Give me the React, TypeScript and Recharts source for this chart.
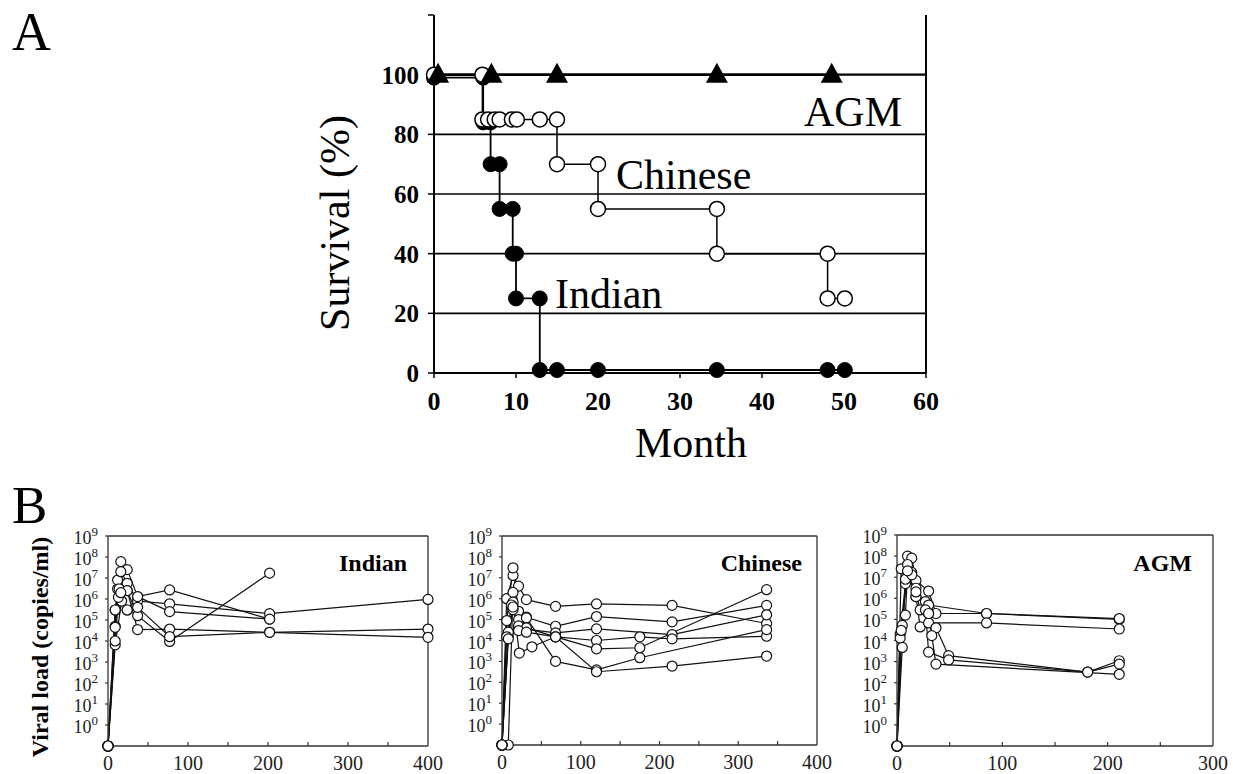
import React from 'react';
import { LineChart, Line, XAxis, YAxis, ReferenceLine } from 'recharts';

const SERIF = '"Liberation Serif", "Times New Roman", serif';

// ---------- Panel A: survival ----------
const monthTicks = [0, 10, 20, 30, 40, 50, 60];
const survivalTicks = [0, 20, 40, 60, 80, 100, 120];
const survivalGrid = [20, 40, 60, 80, 100];

const indianMonths = [0, 6.0, 6.0, 6.9, 6.9, 8.0, 8.0, 9.6, 9.6, 10.0, 10.0, 12.9, 12.9, 15.0, 20.0, 34.5, 48.0, 50.1];
const indianSurvival = [99, 99, 84, 84, 70, 70, 55, 55, 40, 40, 25, 25, 1, 1, 1, 1, 1, 1];

const chineseMonths = [0, 5.9, 5.9, 6.6, 7.4, 8.0, 9.5, 10.1, 12.9, 15.0, 15.0, 20.0, 20.0, 34.5, 34.5, 48.0, 48.0, 50.1];
const chineseSurvival = [100, 100, 85, 85, 85, 85, 85, 85, 85, 85, 70, 70, 55, 55, 40, 40, 25, 25];

const agmMonths = [0.5, 7, 15, 34.5, 48.5];
const agmSurvival = [100, 100, 100, 100, 100];

// ---------- Panel B: viral load, [day, copies/ml] per animal ----------
const dayTicks400 = [0, 50, 100, 150, 200, 250, 300, 350, 400];
const dayTicks300 = [0, 50, 100, 150, 200, 250, 300];
const loadTicks = [1, 1e1, 1e2, 1e3, 1e4, 1e5, 1e6, 1e7, 1e8, 1e9];

const indian1 = [[0, 0.1], [9, 5e4], [12, 8e6], [16, 6e7], [24, 2.5e7], [37, 1.3e6], [77, 2.7e6], [202, 1.1e5]];
const indian2 = [[0, 0.1], [9, 3e5], [12, 3e6], [16, 2e7], [24, 5.6e6], [37, 8e5], [77, 5.9e5], [202, 2e5], [400, 9.5e5]];
const indian3 = [[0, 0.1], [9, 6.6e3], [17, 8e5], [24, 2.5e6], [37, 1.6e5], [77, 9.5e3], [202, 1.7e7]];
const indian4 = [[0, 0.1], [9, 4.5e4], [13, 1.2e6], [24, 3e5], [37, 1.3e6], [77, 2.5e5], [202, 1.1e5]];
const indian5 = [[0, 0.1], [9, 1e4], [14, 3e6], [24, 2.5e6], [37, 3.5e4], [77, 3.7e4], [202, 2.6e4], [400, 3.7e4]];
const indian6 = [[0, 0.1], [9, 3e5], [16, 2e6], [24, 3e5], [37, 4e5], [77, 1.6e4], [202, 2.6e4], [400, 1.5e4]];

const chinese1 = [[0, 0.1], [6, 1e6], [14, 1.3e7], [21, 4e6], [31, 9e5], [68, 4.3e5], [120, 5.6e5], [216, 4.8e5], [336, 6.5e4]];
const chinese2 = [[0, 0.1], [6, 9e4], [14, 3e7], [21, 2.5e5], [31, 1.3e5], [68, 4.8e4], [120, 1.4e5], [216, 7.8e4], [336, 4.8e5]];
const chinese3 = [[0, 0.1], [8, 0.1], [14, 2e6], [21, 1e5], [31, 3.5e4], [68, 2.3e4], [120, 3.6e4], [216, 1.9e4], [336, 1.7e5]];
const chinese4 = [[0, 0.1], [8, 1.6e4], [14, 6.8e5], [22, 2.5e3], [38, 5e3], [68, 1.5e4], [120, 1e4], [175, 1.5e4], [216, 1.2e4], [336, 1.6e4]];
const chinese5 = [[0, 0.1], [8, 2.5e4], [14, 3e5], [21, 3.2e4], [31, 1.2e5], [68, 1e3], [120, 3.9e2], [175, 1.5e3], [336, 3.3e4]];
const chinese6 = [[0, 0.1], [6, 1.5e4], [12, 5e5], [21, 5e4], [31, 4e4], [68, 1.5e4], [120, 3.2e2], [216, 6e2], [336, 1.8e3]];
const chinese7 = [[0, 0.1], [8, 1.2e4], [14, 4e5], [21, 3e4], [31, 2.5e4], [68, 1.5e4], [120, 4e3], [175, 4.5e3], [336, 2.7e6]];

const agm1 = [[0, 0.1], [4, 2.5e7], [10, 1e8], [14, 1.7e7], [18, 1.2e6], [27, 7e5], [30, 4.8e5], [85, 1.9e5], [211, 1e5]];
const agm2 = [[0, 0.1], [3, 2e4], [8, 5e6], [14, 8e7], [18, 7e6], [30, 2.2e6], [37, 1.9e5], [85, 1.9e5], [211, 1.1e5]];
const agm3 = [[0, 0.1], [3, 1.3e4], [8, 1.6e5], [10, 1.7e7], [18, 1.2e6], [22, 4.4e4], [30, 6.8e4], [85, 6.8e4], [211, 3.5e4]];
const agm4 = [[0, 0.1], [5, 4.7e3], [8, 8e6], [14, 1.3e7], [22, 2.8e5], [30, 1.9e5], [37, 4e4], [49, 1.9e3], [181, 3.2e2], [211, 1.1e3]];
const agm5 = [[0, 0.1], [5, 5.2e4], [10, 4e7], [18, 3e6], [27, 2.8e5], [30, 2.8e3], [49, 1.2e3], [181, 3.2e2], [211, 7.6e2]];
const agm6 = [[0, 0.1], [4, 3e4], [10, 2e7], [18, 2e6], [30, 1.9e5], [33, 1.7e4], [37, 7.6e2], [211, 2.5e2]];

const zipSurvival = (months: number[], surv: number[]) => months.map((m, i) => ({ m, s: surv[i] }));
const toPoints = (arr: number[][]) => arr.map(([d, v]) => ({ d, v }));

const triangleDot = (p: any) => (
  <polygon
    key={`tri-${p.index}`}
    points={`${p.cx},${p.cy - 12} ${p.cx - 11},${p.cy + 8} ${p.cx + 11},${p.cy + 8}`}
    fill="#000"
  />
);

const PowerTick = (props: any) => {
  const { x, y, payload } = props;
  const n = Math.round(Math.log10(payload.value));
  return (
    <text x={x} y={y} textAnchor="end" fontFamily={SERIF} fontSize={18} fill="#222">
      <tspan dy={8}>10</tspan>
      <tspan dy={-8} fontSize={13}>{n}</tspan>
    </text>
  );
};

interface ViralPanelProps {
  left: number;
  top: number;
  width: number;
  height: number;
  maxDay: number;
  dayTicks: number[];
  animals: number[][][];
}

const ViralPanel: React.FC<ViralPanelProps> = ({ left, top, width, height, maxDay, dayTicks, animals }) => {
  const M = { top: 14, right: 24, bottom: 0, left: 0 };
  const YW = 60;
  const XH = 32;
  const axisY = M.top + height;
  const DayTick = (props: any) => {
    const { x, payload } = props;
    const major = payload.value % 100 === 0;
    return (
      <g>
        {payload.value !== 0 && payload.value !== maxDay && (
          <line x1={x} x2={x} y1={axisY} y2={axisY - 4} stroke="#333" strokeWidth={1.2} />
        )}
        {major && (
          <text x={x} y={axisY + 24} textAnchor="middle" fontFamily={SERIF} fontSize={20} fill="#222">
            {payload.value}
          </text>
        )}
      </g>
    );
  };
  return (
    <div style={{ position: 'absolute', left: left - YW, top: top - M.top }}>
      <LineChart width={YW + width + M.right} height={M.top + height + XH} margin={M}>
        <XAxis
          type="number"
          dataKey="d"
          domain={[0, maxDay]}
          ticks={dayTicks}
          interval={0}
          height={XH}
          tickLine={false}
          tickSize={0}
          tick={<DayTick />}
          axisLine={{ stroke: '#333', strokeWidth: 1.3 }}
        />
        <YAxis
          type="number"
          scale="log"
          domain={[0.1, 1e9]}
          ticks={loadTicks}
          interval={0}
          width={YW}
          tickSize={3}
          tickMargin={7}
          tickLine={{ stroke: '#333', strokeWidth: 1.2 }}
          tick={<PowerTick />}
          axisLine={{ stroke: '#333', strokeWidth: 1.3 }}
        />
        <ReferenceLine y={1e9} stroke="#333" strokeWidth={1.3} />
        <ReferenceLine x={maxDay} stroke="#333" strokeWidth={1.3} />
        {animals.map((a, i) => (
          <Line
            key={i}
            data={toPoints(a)}
            dataKey="v"
            type="linear"
            stroke="#111"
            strokeWidth={1.2}
            dot={{ r: 5, fill: '#fff', stroke: '#111', strokeWidth: 1.2 }}
            isAnimationActive={false}
          />
        ))}
      </LineChart>
    </div>
  );
};

const SurvivalPanel: React.FC = () => {
  const W = 1000;
  const H = 420;
  const XH = 40;
  const YW = 60;
  const margin = { top: 15, right: W - 926, bottom: H - 373 - XH, left: 434 - YW };
  return (
    <div style={{ position: 'absolute', left: 0, top: 0 }}>
      <LineChart width={W} height={H} margin={margin}>
        <XAxis
          type="number"
          dataKey="m"
          domain={[0, 60]}
          ticks={monthTicks}
          interval={0}
          height={XH}
          tickSize={5}
          tickMargin={14}
          tickLine={{ stroke: '#000', strokeWidth: 1.5 }}
          axisLine={{ stroke: '#000', strokeWidth: 2 }}
          tick={{ fontFamily: SERIF, fontSize: 26, fontWeight: 'bold', fill: '#000' }}
        />
        <YAxis
          type="number"
          domain={[0, 120]}
          ticks={survivalTicks}
          interval={0}
          width={YW}
          tickSize={6}
          tickMargin={9}
          tickFormatter={(v: number) => (v === 120 ? '' : String(v))}
          tickLine={{ stroke: '#000', strokeWidth: 1.5 }}
          axisLine={{ stroke: '#000', strokeWidth: 2 }}
          tick={{ fontFamily: SERIF, fontSize: 25, fontWeight: 'bold', fill: '#000' }}
        />
        {survivalGrid.map((v) => (
          <ReferenceLine key={v} y={v} stroke="#000" strokeWidth={v === 100 ? 2.2 : 1.6} />
        ))}
        <ReferenceLine x={60} stroke="#000" strokeWidth={2} />
        <Line
          data={zipSurvival(indianMonths, indianSurvival)}
          dataKey="s"
          type="linear"
          stroke="#000"
          strokeWidth={1.8}
          dot={{ r: 7.5, fill: '#000', stroke: '#000', strokeWidth: 1 }}
          isAnimationActive={false}
        />
        <Line
          data={zipSurvival(chineseMonths, chineseSurvival)}
          dataKey="s"
          type="linear"
          stroke="#000"
          strokeWidth={1.5}
          dot={{ r: 7.5, fill: '#fff', stroke: '#000', strokeWidth: 1.5 }}
          isAnimationActive={false}
        />
        <Line
          data={zipSurvival(agmMonths, agmSurvival)}
          dataKey="s"
          type="linear"
          stroke="#000"
          strokeWidth={2.5}
          dot={triangleDot}
          isAnimationActive={false}
        />
      </LineChart>
    </div>
  );
};

export default function App() {
  return (
    <div style={{ position: 'absolute', left: 0, top: 0, width: 1233, height: 774, background: '#fff', overflow: 'hidden' }}>
      <SurvivalPanel />
      <ViralPanel left={108} top={536} width={320} height={210} maxDay={400} dayTicks={dayTicks400}
        animals={[indian1, indian2, indian3, indian4, indian5, indian6]} />
      <ViralPanel left={502} top={536} width={315} height={209} maxDay={400} dayTicks={dayTicks400}
        animals={[chinese1, chinese2, chinese3, chinese4, chinese5, chinese6, chinese7]} />
      <ViralPanel left={897} top={535} width={316} height={211} maxDay={300} dayTicks={dayTicks300}
        animals={[agm1, agm2, agm3, agm4, agm5, agm6]} />
      <svg width={1233} height={774} style={{ position: 'absolute', left: 0, top: 0, pointerEvents: 'none' }}>
        <g fontFamily={SERIF} fill="#000">
          <text x={12} y={50} fontSize={54}>A</text>
          <text x={12} y={523} fontSize={53}>B</text>
          <text x={691} y={457} fontSize={42} textAnchor="middle">Month</text>
          <text transform="translate(349,223) rotate(-90)" fontSize={42} textAnchor="middle">Survival (%)</text>
          <text x={804} y={126} fontSize={42}>AGM</text>
          <text x={616} y={189} fontSize={42}>Chinese</text>
          <text x={555} y={308} fontSize={42}>Indian</text>
          <text transform="translate(48,647) rotate(-90)" fontSize={24} fontWeight="bold" textAnchor="middle">Viral load (copies/ml)</text>
          <text x={407} y={571} fontSize={24} fontWeight="bold" textAnchor="end">Indian</text>
          <text x={802} y={571} fontSize={24} fontWeight="bold" textAnchor="end">Chinese</text>
          <text x={1192} y={571} fontSize={24} fontWeight="bold" textAnchor="end">AGM</text>
        </g>
      </svg>
    </div>
  );
}
